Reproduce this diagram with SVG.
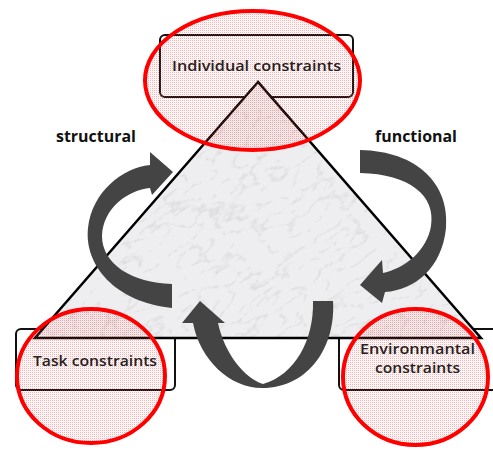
<svg xmlns="http://www.w3.org/2000/svg" width="493" height="450" viewBox="0 0 493 450">
  <defs>
    <style>
      .box { fill: none; stroke: #111; stroke-width: 2; }
      .ring { fill: url(#dots); stroke: #f00; stroke-width: 4; }
      .lbl { font-family: "Open Sans", Lato, sans-serif; font-size: 14.5px; font-weight: 600; fill: #222; text-anchor: middle; }
      .side { font-family: "Open Sans", Lato, sans-serif; font-size: 15.5px; font-weight: bold; fill: #111; text-anchor: middle; }
      .arrow { fill: #444; }
    </style>
    <pattern id="dots" width="2" height="2" patternUnits="userSpaceOnUse">
      <rect x="0" y="0" width="1" height="1" fill="#ff3030" fill-opacity="0.4"/>
      <rect x="1" y="1" width="1" height="1" fill="#ff8080" fill-opacity="0.15"/>
    </pattern>
    <clipPath id="triClip">
      <polygon points="258,82 35,338 481,338"/>
    </clipPath>
    <filter id="marble" x="0" y="0" width="100%" height="100%" filterUnits="userSpaceOnUse">
      <feTurbulence type="turbulence" baseFrequency="0.035 0.07" numOctaves="4" seed="7"/>
      <feColorMatrix type="matrix" values="0 0 0 0 0.5  0 0 0 0 0.5  0 0 0 0 0.53  -2.0 0 0 0 0.42"/>
    </filter>
  </defs>

  <g id="task-box"><rect class="box" x="16" y="329" width="159" height="61" rx="5"/></g>
  <g id="env-box"><rect class="box" x="339" y="329" width="160" height="61" rx="5"/></g>
  <g id="individual-box"><rect class="box" x="160" y="35" width="193" height="62" rx="5"/></g>

  <g id="triangle">
    <polygon points="258,82 35,338 481,338" fill="#eeeef0"/>
    <g clip-path="url(#triClip)">
      <g transform="rotate(-35 258 230)">
        <rect x="-50" y="-80" width="620" height="620" filter="url(#marble)"/>
      </g>
    </g>
    <polygon points="258,82 35,338 481,338" fill="none" stroke="#000" stroke-width="2.5"/>
  </g>

  <g id="individual">
    <ellipse class="ring" cx="252.5" cy="80.5" rx="107.5" ry="69.5"/>
    <text class="lbl" x="256.5" y="70.5" textLength="169" lengthAdjust="spacingAndGlyphs">Individual constraints</text>
  </g>
  <g id="task">
    <ellipse class="ring" cx="91" cy="376" rx="74" ry="67"/>
    <text class="lbl" x="95" y="365.5" textLength="124" lengthAdjust="spacingAndGlyphs">Task constraints</text>
  </g>
  <g id="environmental">
    <ellipse class="ring" cx="415.5" cy="377" rx="72.5" ry="68"/>
    <text class="lbl" x="417.5" y="354" textLength="115" lengthAdjust="spacingAndGlyphs">Environmantal</text>
    <text class="lbl" x="417.5" y="373" textLength="85" lengthAdjust="spacingAndGlyphs">constraints</text>
  </g>

  <g id="connectors">
    <path id="arrow-structural" class="arrow" d="M172,308 C 115,302 84,265 88,228 C 92,192 122,168 150,165 L150,152 L173,172 L152,195 L150,188 C 128,190 103,208 102,236 C 102,264 132,283 172,284 Z"/>
    <path id="arrow-functional" class="arrow" d="M360,150 C 418,151 450,185 446,228 C 442,268 415,290 385,292 L382,303 L360,285 L382,260 L383,273 C 406,268 427,250 431,226 C 436,196 410,174 360,173 Z"/>
    <path id="arrow-bottom" class="arrow" d="M313,301 L333,301 C 336,345 310,388 262,388 C 230,388 200,360 193,323 L182,323 L200,301 L225,323 L218,323 C 225,355 245,378 263,384 C 295,375 314,340 313,301 Z"/>
    <text class="side" x="96" y="141.5" textLength="80" lengthAdjust="spacingAndGlyphs">structural</text>
    <text class="side" x="416" y="142" textLength="82" lengthAdjust="spacingAndGlyphs">functional</text>
  </g>
</svg>
